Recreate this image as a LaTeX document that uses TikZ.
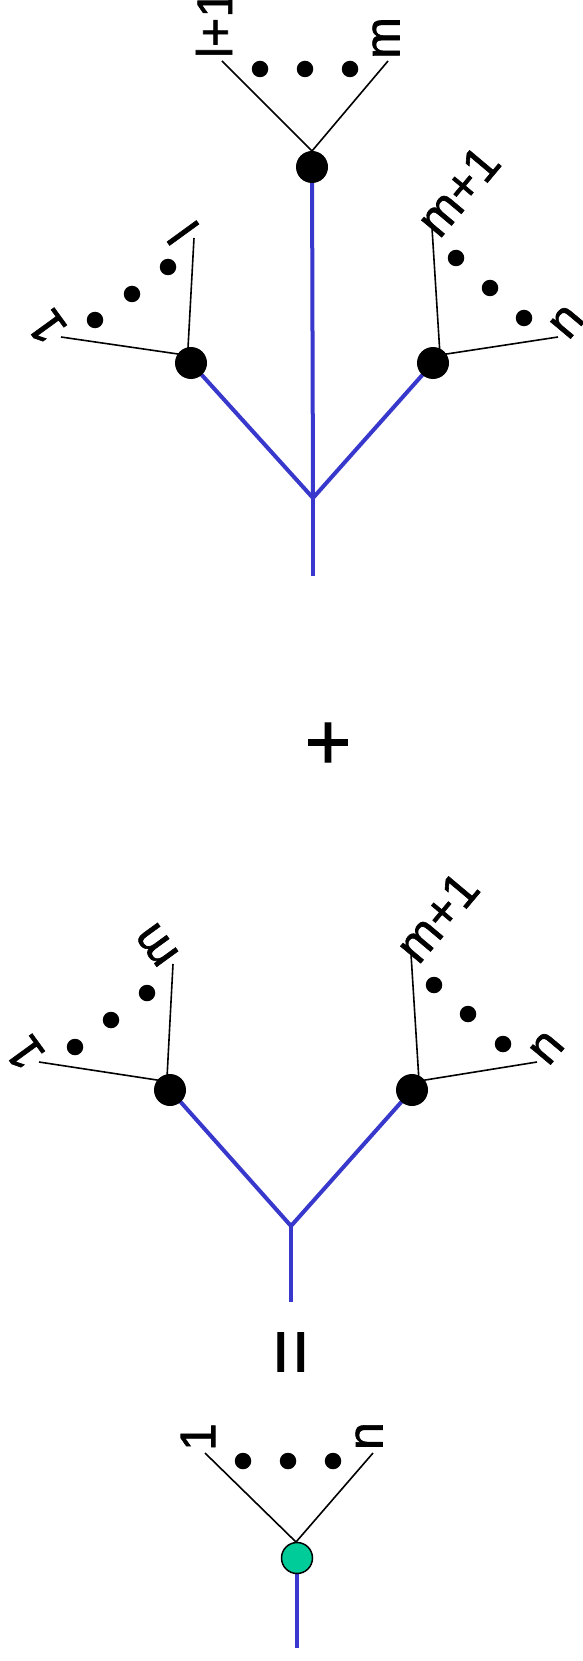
\documentclass[tikz,border=0pt]{standalone}
\usepackage{fontspec}
\setmainfont{Liberation Sans}
\newfontfamily\lblfont{Liberation Sans}[FakeBold=1.2]
\pgfdeclarelayer{bg}
\pgfsetlayers{bg,main}
\definecolor{edgeblue}{RGB}{56,56,205}
\definecolor{rootgreen}{RGB}{0,204,153}
\begin{document}
\begin{tikzpicture}[x=1pt,y=-1pt,
  vtx/.style={circle,fill=black,inner sep=0pt,minimum size=32pt},
  gvtx/.style={circle,fill=rootgreen,draw=black,line width=1.5pt,inner sep=0pt,minimum size=31pt},
  dotn/.style={circle,fill=black,inner sep=0pt,minimum size=16.5pt},
  lbl/.style={inner sep=0pt,font=\lblfont\fontsize{50}{54}\selectfont},
  sym/.style={inner sep=0pt,font=\lblfont\fontsize{80}{84}\selectfont},
  leaf/.style={line width=1.6pt,draw=black},
  trunk/.style={line width=4pt,draw=edgeblue},
]
\useasboundingbox (0,0) rectangle (583,1661);

% ---------- top tree ----------
\node[vtx] (T) at (312,167) {};
\coordinate (Tj) at (312,151);
\coordinate (Ta) at (222,61);
\coordinate (Tb) at (388,61);
\node[dotn] (Td1) at (260,69) {};
\node[dotn] (Td2) at (305,69) {};
\node[dotn] (Td3) at (350,69) {};
\node[lbl,rotate=90] (Tla) at (214,24) {l+1};
\node[lbl,rotate=90] (Tlb) at (386,38) {m};

\node[vtx] (A) at (191,363) {};
\coordinate (Aj) at (187.6,355.4);
\coordinate (Aa) at (61,337);
\coordinate (Ab) at (194,238);
\node[dotn] (Ad1) at (95,320) {};
\node[dotn] (Ad2) at (132,294) {};
\node[dotn] (Ad3) at (168,267) {};
\node[lbl,rotate=126] (Ala) at (47,327) {1};
\node[lbl,rotate=126] (Alb) at (183,233) {l};

\node[vtx] (B) at (433,363) {};
\coordinate (Bj) at (440,355);
\coordinate (Ba) at (432,228);
\coordinate (Bb) at (558,337);
\node[dotn] (Bd1) at (456,258) {};
\node[dotn] (Bd2) at (490,288) {};
\node[dotn] (Bd3) at (524,318) {};
\node[lbl,rotate=50] (Bla) at (458,191) {m+1};
\node[lbl,rotate=50] (Blb) at (567,322) {n};

\coordinate (J1) at (313,498);
\coordinate (E1) at (313,576);

\node[sym] (plus) at (328,746) {+};

% ---------- second tree ----------
\node[vtx] (C) at (170,1090) {};
\coordinate (Cj) at (166.8,1081.5);
\coordinate (Ca) at (39,1062);
\coordinate (Cb) at (173,964);
\node[dotn] (Cd1) at (75,1047) {};
\node[dotn] (Cd2) at (111,1020) {};
\node[dotn] (Cd3) at (147,993) {};
\node[lbl,rotate=126] (Cla) at (25,1053) {1};
\node[lbl,rotate=126] (Clb) at (157,945) {m};

\node[vtx] (D) at (412,1090) {};
\coordinate (Dj) at (419,1081);
\coordinate (Da) at (411,954);
\coordinate (Db) at (537,1062);
\node[dotn] (Dd1) at (434,985) {};
\node[dotn] (Dd2) at (468,1014) {};
\node[dotn] (Dd3) at (503,1044) {};
\node[lbl,rotate=50] (Dla) at (437,917) {m+1};
\node[lbl,rotate=50] (Dlb) at (547,1048) {n};

\coordinate (J2) at (291,1226);
\coordinate (E2) at (291,1302);

\node[sym,rotate=90] (eq) at (297.5,1352) {=};

% ---------- result ----------
\node[gvtx] (G) at (297,1558) {};
\coordinate (Gj) at (296,1542);
\coordinate (Ga) at (205,1453);
\coordinate (Gb) at (373,1453);
\node[dotn] (Gd1) at (243,1461) {};
\node[dotn] (Gd2) at (288,1461) {};
\node[dotn] (Gd3) at (333,1461) {};
\node[lbl,rotate=90] (Gla) at (198,1437) {1};
\node[lbl,rotate=90] (Glb) at (369,1436) {n};
\coordinate (E3) at (297,1648);

\begin{pgfonlayer}{bg}
  \draw[leaf] (Ta) -- (Tj) -- (Tb);
  \draw[leaf] (Aa) -- (Aj) -- (Ab);
  \draw[leaf] (Ba) -- (Bj) -- (Bb);
  \draw[leaf] (Ca) -- (Cj) -- (Cb);
  \draw[leaf] (Da) -- (Dj) -- (Db);
  \draw[leaf] (Ga) -- (Gj) -- (Gb);
  \draw[trunk] (T.center) -- (J1);
  \draw[trunk] (A.center) -- (J1) -- (B.center);
  \draw[trunk] (J1) -- (E1);
  \draw[trunk] (C.center) -- (J2) -- (D.center);
  \draw[trunk] (J2) -- (E2);
  \draw[trunk] (G.center) -- (E3);
\end{pgfonlayer}
\end{tikzpicture}
\end{document}
